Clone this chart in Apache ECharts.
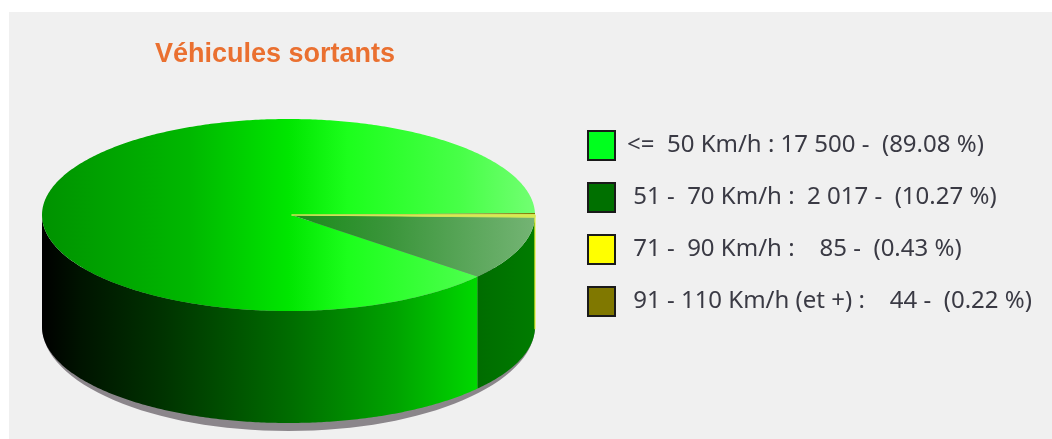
<!DOCTYPE html>
<html><head><meta charset="utf-8">
<style>html,body{margin:0;padding:0;background:#fff}#c{width:1052px;height:439px;filter:blur(0.6px)}</style>
<script src="https://cdn.jsdelivr.net/npm/echarts@6/dist/echarts.min.js"></script>
</head><body><div id="c"></div>
<script>
const titleText = 'Véhicules sortants';
const categories = ['<=  50 Km/h', '51 -  70 Km/h', '71 -  90 Km/h', '91 - 110 Km/h (et +)'];
const values = [17500, 2017, 85, 44];
const legendLabels = [
  '<=  50 Km/h : 17 500 -  (89.08 %)',
  ' 51 -  70 Km/h :  2 017 -  (10.27 %)',
  ' 71 -  90 Km/h :    85 -  (0.43 %)',
  ' 91 - 110 Km/h (et +) :    44 -  (0.22 %)'
];
const swatchColors = ['#00ff1e', '#007000', '#ffff00', '#807800'];
const drawOrder = [1, 0, 3, 2];

const cx = 288.5, cy = 215, rx = 246.5, ry = 96, depth = 112;
const total = values.reduce((a, b) => a + b, 0);
const startDeg = 1.3;
// the reference's pseudo-3D view stretches angles slightly away from the axes
const warp = d => d + 1.7 * Math.sin(2 * d * Math.PI / 180);
const spans = {};
let cum = startDeg;
drawOrder.forEach(i => { const s = values[i] / total * 360; spans[i] = [warp(cum), warp(cum + s)]; cum += s; });

const G = (stops) => new echarts.graphic.LinearGradient(cx - rx, 0, cx + rx, 0,
  stops.map(s => ({ offset: s[0], color: s[1] })), true);
const topFills = [
  G([[0, '#009200'], [0.3, '#00b800'], [0.5, '#00e600'], [0.62, '#1cff1c'], [0.85, '#48ff48'], [1, '#72ff72']]),
  G([[0.5, '#188a18'], [0.7, '#3a953a'], [1, '#74b474']]),
  '#ffff00', '#807800'
];
const sideFills = [
  G([[0, '#000000'], [0.08, '#001400'], [0.25, '#003400'], [0.5, '#006c00'], [0.72, '#00a400'], [0.88, '#00d800'], [1, '#00f000']]),
  G([[0.85, '#006800'], [1, '#007c00']]),
  '#ffff00', '#807800'
];
const pt = (deg, dy) => { const a = deg * Math.PI / 180; return [cx + rx * Math.cos(a), cy + ry * Math.sin(a) + (dy || 0)]; };
const arc = (a0, a1, dy) => { const n = Math.max(2, Math.ceil(Math.abs(a1 - a0) * 1.5)), r = [];
  for (let k = 0; k <= n; k++) r.push(pt(a0 + (a1 - a0) * k / n, dy)); return r; };

function sliceItem(idx) {
  const [a0, a1] = spans[idx], children = [];
  [[Math.max(a0, 0), Math.min(a1, 180)], [Math.max(a0, 360), Math.min(a1, 540)]].forEach(r => {
    if (r[1] > r[0]) {
      const wall = arc(r[0], r[1], 0).concat(arc(r[1], r[0], depth));
      children.push({ type: 'polygon', z2: 1, shape: { points: wall },
        style: idx === 2 ? { fill: '#ffff00', stroke: 'rgba(230,240,40,0.75)', lineWidth: 1.4 } : { fill: sideFills[idx] } });
    }
  });
  const top = [[cx + 3, cy]].concat(arc(a0, a1, 0));
  children.push({ type: 'polygon', z2: 2, shape: { points: top },
    style: idx === 2 ? { fill: '#d8ec50', stroke: '#cfe455', lineWidth: 1 } : { fill: topFills[idx] } });
  return { type: 'group', children };
}
function shadowItem() {
  return { type: 'ellipse', shape: { cx: cx, cy: cy + depth - 1, rx: rx, ry: ry + 9 }, style: { fill: '#8b868b' } };
}

const series = [{
  type: 'custom', name: 'shadow', coordinateSystem: 'none', z: 1, silent: true,
  data: [0], renderItem: shadowItem
}];
[0, 1, 3, 2].forEach((i, pos) => series.push({
  type: 'custom', name: legendLabels[i], coordinateSystem: 'none', z: 2 + pos, silent: true,
  itemStyle: { color: swatchColors[i] },
  data: [values[i]], renderItem: () => sliceItem(i)
}));

const chart = echarts.init(document.getElementById('c'), null, { renderer: 'canvas' });
chart.setOption({
  animation: false,
  backgroundColor: '#ffffff',
  title: { text: titleText, left: 150, top: 36,
    textStyle: { fontFamily: 'Liberation Sans', fontWeight: 'bold', fontSize: 27, color: '#ea7030' } },
  graphic: [{ type: 'rect', z: -10, silent: true, shape: { x: 9, y: 12, width: 1043, height: 427 }, style: { fill: '#f0f0f0' } }],
  legend: {
    data: legendLabels, orient: 'vertical', left: 582, top: 125,
    itemWidth: 27, itemHeight: 29, itemGap: 21, icon: 'rect', selectedMode: false,
    itemStyle: { borderColor: '#1a1a1a', borderWidth: 2 },
    textStyle: { fontFamily: 'Noto Sans', fontSize: 24, color: '#3a3a44', padding: [0, 0, 0, 7] }
  },
  series
});
</script></body></html>
